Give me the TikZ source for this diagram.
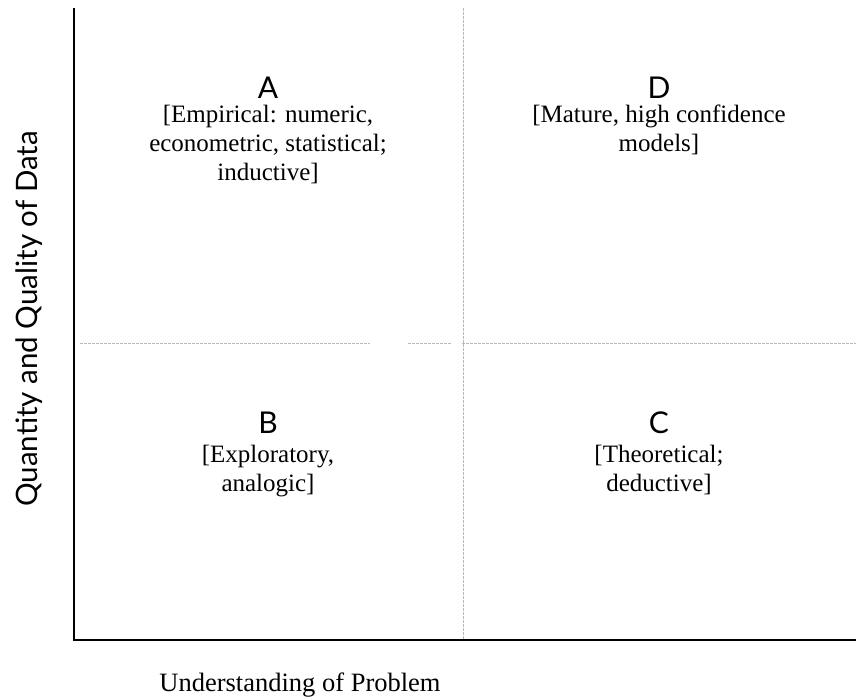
\documentclass[tikz,border=0pt]{standalone}
\usepackage{fontspec}
\setmainfont{Liberation Serif}
\newfontfamily\gillfont{Lato}
\tikzset{
  axis/.style={line width=2.4pt,black},
  divider/.style={line width=0.6pt,gray!55,dash pattern=on 3pt off 1pt},
  letter/.style={font=\gillfont\fontsize{30}{32}\selectfont,anchor=base,inner sep=0pt},
  desc/.style={font=\fontsize{25}{29}\selectfont,anchor=base,inner sep=0pt},
  xlab/.style={font=\fontsize{26.5}{30}\selectfont,anchor=base,inner sep=0pt},
  ylab/.style={font=\gillfont\fontsize{29.5}{32}\selectfont,rotate=90,anchor=base east,inner sep=0pt}
}
\newcommand{\quadtext}[1]{\begin{tabular}[t]{@{}c@{}}#1\end{tabular}}
\begin{document}
\begin{tikzpicture}[x=1pt,y=-1pt]
\useasboundingbox (0,0) rectangle (856,700);
\coordinate (top) at (74,8);
\coordinate (origin) at (74,640);
\coordinate (right) at (856,640);
\coordinate (vt) at (463,8);
\coordinate (vb) at (463,640);
\coordinate (h1) at (80,343);
\coordinate (h2) at (370,343);
\coordinate (h3) at (408,343);
\coordinate (h4) at (452,343);
\coordinate (h5) at (462,343);
\coordinate (h6) at (856,343);
\draw[divider] (vt) -- (vb);
\draw[divider] (h1) -- (h2);
\draw[divider] (h3) -- (h4);
\draw[divider] (h5) -- (h6);
\draw[axis] (top) -- (origin) -- (right);
\node[letter] (A) at (268,99) {A};
\node[desc] (Ad) at (268,123) {\quadtext{[Empirical: numeric,\\econometric, statistical;\\inductive]}};
\node[letter] (D) at (659,99) {D};
\node[desc] (Dd) at (659,123) {\quadtext{[Mature, high confidence\\models]}};
\node[letter] (B) at (268,433) {B};
\node[desc] (Bd) at (268,462) {\quadtext{[Exploratory,\\analogic]}};
\node[letter] (C) at (659,433) {C};
\node[desc] (Cd) at (659,462) {\quadtext{[Theoretical;\\deductive]}};
\node[xlab] (xl) at (300,691) {Understanding of Problem};
\node[ylab] (yl) at (37,131) {Quantity and Quality of Data};
\end{tikzpicture}
\end{document}
